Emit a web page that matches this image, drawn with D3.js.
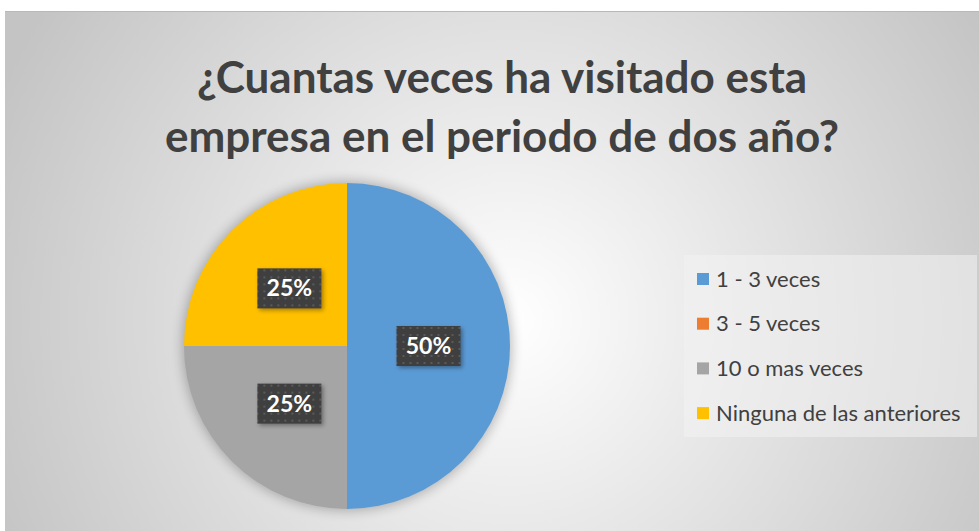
<!DOCTYPE html>
<html lang="es">
<head>
<meta charset="utf-8">
<script src="https://d3js.org/d3.v7.min.js"></script>
<style>
  body { margin: 0; background: #fff; }
</style>
</head>
<body>
<script>
  // datos del grafico
  const categorias = ['1 - 3 veces', '3 - 5 veces', '10 o mas veces', 'Ninguna de las anteriores'];
  const valores = [50, 0, 25, 25];
  const colores = ['#5B9BD5', '#ED7D31', '#A5A5A5', '#FFC000'];
  const titulo = ['¿Cuantas veces ha visitado esta', 'empresa en el periodo de dos año?'];

  const width = 979, height = 531;
  const font = 'Lato, "Open Sans", sans-serif';

  const svg = d3.select('body').append('svg')
    .attr('width', width)
    .attr('height', height);

  const defs = svg.append('defs');

  const bg = defs.append('radialGradient')
    .attr('id', 'bg')
    .attr('gradientUnits', 'userSpaceOnUse')
    .attr('cx', 510).attr('cy', 320).attr('r', 560);
  bg.append('stop').attr('offset', '0%').attr('stop-color', '#ffffff');
  bg.append('stop').attr('offset', '100%').attr('stop-color', '#c4c4c4');

  const pat = defs.append('pattern')
    .attr('id', 'dots')
    .attr('patternUnits', 'userSpaceOnUse')
    .attr('width', 7).attr('height', 7);
  pat.append('rect').attr('width', 7).attr('height', 7).attr('fill', '#3f3f3f');
  pat.append('rect').attr('x', 2).attr('y', 2).attr('width', 2).attr('height', 2).attr('fill', '#5a5a5a');

  const blur = defs.append('filter').attr('id', 'sombra')
    .attr('x', '-20%').attr('y', '-20%').attr('width', '140%').attr('height', '140%');
  blur.append('feGaussianBlur').attr('stdDeviation', 6);

  const blurSmall = defs.append('filter').attr('id', 'sombra2')
    .attr('x', '-30%').attr('y', '-30%').attr('width', '160%').attr('height', '160%');
  blurSmall.append('feGaussianBlur').attr('stdDeviation', 2);

  // fondo
  svg.append('rect')
    .attr('x', 5).attr('y', 11)
    .attr('width', width - 5).attr('height', height - 11)
    .attr('fill', 'url(#bg)');
  svg.append('line')
    .attr('x1', 5).attr('x2', width).attr('y1', 11.5).attr('y2', 11.5)
    .attr('stroke', '#b8b8b8');

  // titulo
  svg.append('g').selectAll('text')
    .data(titulo)
    .enter()
    .append('text')
    .attr('x', 502)
    .attr('y', function(d, i) { return 93 + i * 59; })
    .attr('text-anchor', 'middle')
    .attr('font-family', font)
    .attr('font-weight', 'bold')
    .attr('font-size', 44)
    .attr('fill', '#404040')
    .text(function(d) { return d; });

  // pastel
  const cx = 347, cy = 346, r = 163;
  const pie = d3.pie().sort(null).value(function(d) { return d; });
  const arcos = pie(valores);
  const arc = d3.arc().innerRadius(0).outerRadius(r);

  const g = svg.append('g').attr('transform', 'translate(' + cx + ',' + cy + ')');

  g.append('circle')
    .attr('r', r + 2)
    .attr('fill', '#000')
    .attr('opacity', 0.25)
    .attr('filter', 'url(#sombra)');

  g.selectAll('path')
    .data(arcos)
    .enter()
    .append('path')
    .attr('d', arc)
    .attr('fill', function(d, i) { return colores[i]; });

  // etiquetas
  const etiquetas = g.selectAll('g.etq')
    .data(arcos.filter(function(d) { return d.value > 0; }))
    .enter()
    .append('g')
    .attr('class', 'etq')
    .attr('transform', function(d) {
      const c = arc.centroid(d);
      return 'translate(' + c[0] + ',' + c[1] + ')';
    });

  etiquetas.append('rect')
    .attr('x', -30).attr('y', -18)
    .attr('width', 64).attr('height', 40)
    .attr('fill', '#000').attr('opacity', 0.35)
    .attr('filter', 'url(#sombra2)');

  etiquetas.append('rect')
    .attr('x', -32).attr('y', -20)
    .attr('width', 64).attr('height', 40)
    .attr('fill', 'url(#dots)');

  etiquetas.append('text')
    .attr('text-anchor', 'middle')
    .attr('dy', 8)
    .attr('font-family', font)
    .attr('font-weight', 'bold')
    .attr('font-size', 23)
    .attr('fill', '#ffffff')
    .text(function(d) { return d.value + '%'; });

  // leyenda
  const leyenda = svg.append('g');
  leyenda.append('rect')
    .attr('x', 684).attr('y', 255)
    .attr('width', 293).attr('height', 182)
    .attr('fill', '#f2f2f2').attr('opacity', 0.55);

  const filas = leyenda.selectAll('g.fila')
    .data(categorias)
    .enter()
    .append('g')
    .attr('class', 'fila')
    .attr('transform', function(d, i) { return 'translate(697,' + (279 + i * 44.7) + ')'; });

  filas.append('rect')
    .attr('x', 0).attr('y', -6)
    .attr('width', 12).attr('height', 12)
    .attr('fill', function(d, i) { return colores[i]; });

  filas.append('text')
    .attr('x', 19)
    .attr('dy', 7.5)
    .attr('font-family', font)
    .attr('font-size', 22)
    .attr('fill', '#404040')
    .text(function(d) { return d; });
</script>
</body>
</html>
